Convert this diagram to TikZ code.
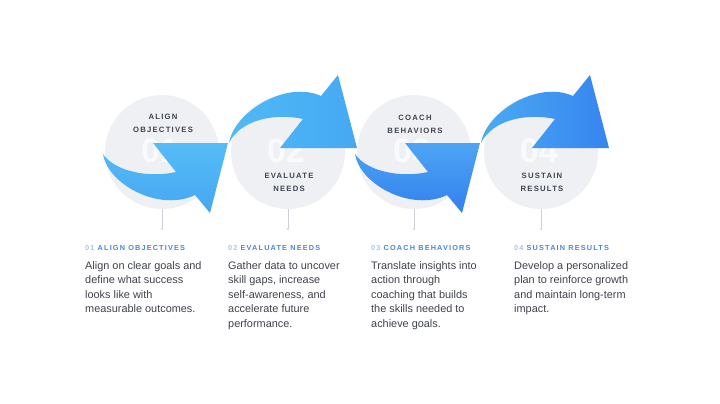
\documentclass[tikz,border=0pt]{standalone}
\usepackage{fontspec}
\setmainfont{Liberation Sans}
\newfontfamily\lblfont{Liberation Sans}[LetterSpace=16]
\newfontfamily\headfont{Liberation Sans}[LetterSpace=16]
\definecolor{circfill}{HTML}{EEF0F3}
\definecolor{stemgray}{HTML}{CDD1D6}
\definecolor{lbltext}{HTML}{3E4450}
\definecolor{bodytext}{HTML}{3F434C}
\definecolor{headblue}{HTML}{4A88D8}
\definecolor{numlight}{HTML}{A8C7EE}
\definecolor{aoneA}{HTML}{56BCF6}
\definecolor{aoneB}{HTML}{45A7F3}
\definecolor{atwoA}{HTML}{50B9F6}
\definecolor{atwoB}{HTML}{45A9F3}
\definecolor{athrA}{HTML}{4EA5F3}
\definecolor{athrB}{HTML}{3280EE}
\definecolor{afouA}{HTML}{4AABF3}
\definecolor{afouB}{HTML}{3784EF}
\tikzset{
  stepcirc/.style={circle, fill=circfill, minimum size=114pt, inner sep=0pt},
  bignum/.style={font=\bfseries\fontsize{34}{34}\selectfont, text=white, text opacity=0.7, inner sep=0pt},
  circlbl/.style={font=\lblfont\bfseries\fontsize{7.7}{12.8}\selectfont, text=lbltext, align=center, inner sep=0pt},
  stemline/.style={draw=stemgray, line width=0.6pt},
  stemdot/.style={circle, fill=stemgray, minimum size=2.2pt, inner sep=0pt},
  headlbl/.style={font=\headfont\bfseries\fontsize{7.3}{8}\selectfont, text=headblue, anchor=base west, inner sep=0pt},
  bodylbl/.style={font=\fontsize{10.9}{14.5}\selectfont, text=bodytext, align=left, anchor=north west, inner sep=0pt},
}
\begin{document}
\begin{tikzpicture}[x=1pt,y=-1pt]
\path[fill=white, use as bounding box] (0,0) rectangle (720,404);

% circles
\node[stepcirc] (c1) at (162,152) {};
\node[stepcirc] (c2) at (288,152) {};
\node[stepcirc] (c3) at (414,152) {};
\node[stepcirc] (c4) at (541,152) {};

% faint numbers
\node[bignum] (n1) at (160,151) {01};
\node[bignum] (n2) at (286,151) {02};
\node[bignum] (n3) at (412,151) {03};
\node[bignum] (n4) at (539,151) {04};

% stems
\foreach \i/\x in {1/162,2/288,3/414,4/541}{
  \node[stemdot] (d\i) at (\x,229) {};
  \draw[stemline] (c\i.south) -- (d\i.north);
}

% arrow 1
\path[top color=aoneA, bottom color=aoneB]
  (103,154) .. controls (108,185) and (160,212) .. (195,195) -- (210,213) -- (228,143) -- (153,143) -- (176,172)
  .. controls (150,178) and (115,172) .. (103,154) -- cycle;
% arrow 2
\path[left color=atwoA, right color=atwoB]
  (229,143) .. controls (234,112) and (286,80) .. (321,96) -- (338,75) -- (357,148) -- (280,148) -- (303,119)
  .. controls (276,113) and (241,119) .. (229,143) -- cycle;
% arrow 3
\begin{scope}[xshift=252pt]
\path[top color=athrA, bottom color=athrB]
  (103,154) .. controls (108,185) and (160,212) .. (195,195) -- (210,213) -- (228,143) -- (153,143) -- (176,172)
  .. controls (150,178) and (115,172) .. (103,154) -- cycle;
% arrow 4
\path[left color=afouA, right color=afouB]
  (229,143) .. controls (234,112) and (286,80) .. (321,96) -- (338,75) -- (357,148) -- (280,148) -- (303,119)
  .. controls (276,113) and (241,119) .. (229,143) -- cycle;
\end{scope}

% circle labels
\node[circlbl] (l1) at (163,123.5) {ALIGN\\OBJECTIVES};
\node[circlbl] (l2) at (289,182) {EVALUATE\\NEEDS};
\node[circlbl] (l3) at (415,124) {COACH\\BEHAVIORS};
\node[circlbl] (l4) at (542,182) {SUSTAIN\\RESULTS};

% headings
\node[headlbl] (h1) at (85,250.5) {{\color{numlight}01} ALIGN OBJECTIVES};
\node[headlbl] (h2) at (228,250.5) {{\color{numlight}02} EVALUATE NEEDS};
\node[headlbl] (h3) at (371,250.5) {{\color{numlight}03} COACH BEHAVIORS};
\node[headlbl] (h4) at (514,250.5) {{\color{numlight}04} SUSTAIN RESULTS};

% body texts
\node[bodylbl] (b1) at (85,261) {Align on clear goals and\\define what success\\looks like with\\measurable outcomes.};
\node[bodylbl] (b2) at (228,261) {Gather data to uncover\\skill gaps, increase\\self-awareness, and\\accelerate future\\performance.};
\node[bodylbl] (b3) at (371,261) {Translate insights into\\action through\\coaching that builds\\the skills needed to\\achieve goals.};
\node[bodylbl] (b4) at (514,261) {Develop a personalized\\plan to reinforce growth\\and maintain long-term\\impact.};
\end{tikzpicture}
\end{document}
